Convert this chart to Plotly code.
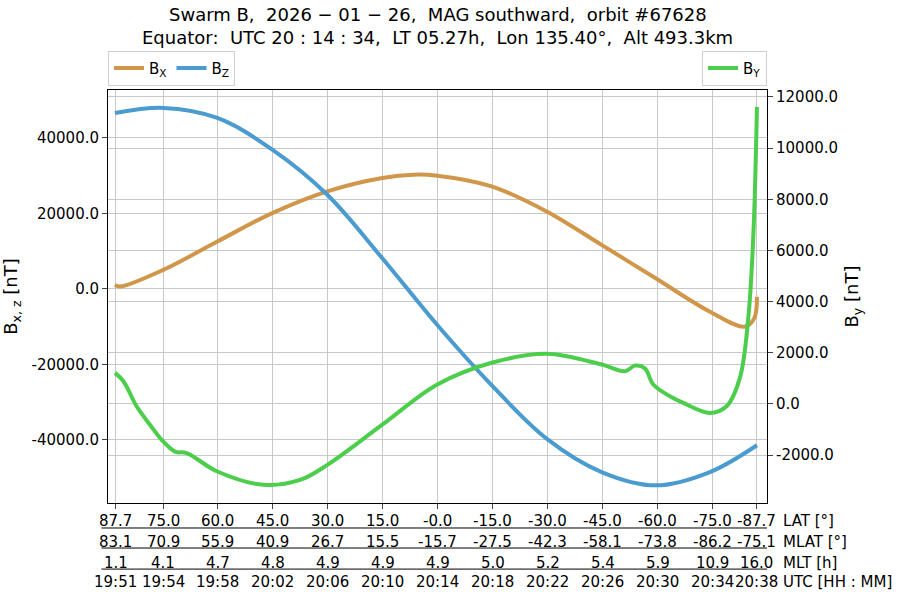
import plotly.graph_objects as go

# time in minutes since 19:50 UTC
bx_t = [0.51, 0.87, 4.02, 7.95, 11.95, 15.95, 19.95, 22.2, 23.95, 27.9, 31.9, 35.9, 39.83, 43.78, 46.3, 47.0, 47.2]
bx_v = [1060, 620, 5040, 12570, 20090, 25840, 29380, 30270, 30000, 27170, 20530, 11680, 2830, -6020, -10000, -7790, -2040]
bz_t = [0.51, 4.02, 7.95, 11.95, 15.95, 19.95, 23.95, 27.9, 31.9, 35.9, 39.83, 43.78, 47.2]
bz_v = [46600, 47960, 45300, 36900, 24950, 8140, -9560, -25490, -39640, -48500, -52030, -48500, -41400]
by_t = [0.51, 1.12, 2.08, 3.05, 3.9, 4.87, 5.72, 7.95, 11.3, 13.96, 15.95, 19.95, 23.95, 27.9, 31.9, 35.9,
        37.6, 38.33, 39.05, 39.66, 40.87, 41.84, 43.78, 44.99, 45.96, 46.57, 46.94, 47.2]
by_v = [1216, 890, -90, -810, -1400, -1860, -1920, -2640, -3160, -2970, -2380, -810, 760, 1610, 1960, 1540,
        1280, 1500, 1390, 760, 300, 40, -350, -90, 1020, 3370, 6640, 11610]

tick_t = [0.58, 4.02, 8, 12, 16, 20, 24, 28, 32, 36, 40, 44, 47.2]
lat = ["87.7", "75.0", "60.0", "45.0", "30.0", "15.0", "-0.0", "-15.0", "-30.0", "-45.0", "-60.0", "-75.0", "-87.7"]
mlat = ["83.1", "70.9", "55.9", "40.9", "26.7", "15.5", "-15.7", "-27.5", "-42.3", "-58.1", "-73.8", "-86.2", "-75.1"]
mlt = ["1.1", "4.1", "4.7", "4.8", "4.9", "4.9", "4.9", "5.0", "5.2", "5.4", "5.9", "10.9", "16.0"]
utc = ["19:51", "19:54", "19:58", "20:02", "20:06", "20:10", "20:14", "20:18", "20:22", "20:26", "20:30", "20:34", "20:38"]
row_names = ["LAT [°]", "MLAT [°]", "MLT [h]", "UTC [HH : MM]"]
rows = [lat, mlat, mlt, utc]
y1_ticks = [-40000, -20000, 0, 20000, 40000]
y1_text = ["-40000.0", "-20000.0", "0.0", "20000.0", "40000.0"]
y2_ticks = [-2000, 0, 2000, 4000, 6000, 8000, 10000, 12000]
y2_text = ["-2000.0", "0.0", "2000.0", "4000.0", "6000.0", "8000.0", "10000.0", "12000.0"]
title1 = "Swarm B,  2026 − 01 − 26,  MAG southward,  orbit #67628"
title2 = "Equator:  UTC 20 : 14 : 34,  LT 05.27h,  Lon 135.40°,  Alt 493.3km"

font = dict(family="DejaVu Sans", size=15, color="black")

fig = go.Figure()
fig.add_trace(go.Scatter(x=bx_t, y=bx_v, mode="lines", line=dict(color="#d0964a", width=4, shape="spline"),
                         name="B<sub>X</sub>", legend="legend"))
fig.add_trace(go.Scatter(x=bz_t, y=bz_v, mode="lines", line=dict(color="#4a9bd0", width=4, shape="spline"),
                         name="B<sub>Z</sub>", legend="legend"))
fig.add_trace(go.Scatter(x=by_t, y=by_v, mode="lines", line=dict(color="#4cce4c", width=4, shape="spline"),
                         name="B<sub>Y</sub>", yaxis="y2", legend="legend2"))

fig.update_layout(
    width=900, height=600, paper_bgcolor="white", plot_bgcolor="white", font=font,
    margin=dict(l=108, r=133, t=90, b=97, autoexpand=False),
    xaxis=dict(range=[0, 47.93], tickvals=tick_t, showticklabels=False, showgrid=True, gridcolor="#c8c8c8",
               showline=True, linecolor="black", mirror=True, ticks="outside", ticklen=5, zeroline=False,
               automargin=False),
    yaxis=dict(range=[-56700, 52700], tickvals=y1_ticks, ticktext=y1_text,
               showgrid=True, gridcolor="#c8c8c8", showline=True, linecolor="black", ticks="outside",
               zeroline=False, automargin=False, title=dict(text="B<sub>x, z</sub> [nT]", standoff=10)),
    yaxis2=dict(range=[-3870, 12270], overlaying="y", side="right", tickvals=y2_ticks, ticktext=y2_text,
                showgrid=True, gridcolor="#c8c8c8", showline=True, linecolor="black",
                ticks="outside", zeroline=False, automargin=False, title=dict(text="B<sub>y</sub> [nT]", standoff=8)),
    legend=dict(orientation="h", x=0.0, y=1.01, xanchor="left", yanchor="bottom", bordercolor="#d0d0d0",
                borderwidth=1, font=dict(size=15)),
    legend2=dict(orientation="h", x=1.0, y=1.01, xanchor="right", yanchor="bottom", bordercolor="#d0d0d0",
                 borderwidth=1, font=dict(size=15)),
)
fig.add_annotation(text=title1, xref="paper", yref="paper", x=0.5, y=1.184, yanchor="middle",
                   showarrow=False, font=dict(family="DejaVu Sans", size=18))
fig.add_annotation(text=title2, xref="paper", yref="paper", x=0.5, y=1.128, yanchor="middle",
                   showarrow=False, font=dict(family="DejaVu Sans", size=18))
row_y = [-0.0436, -0.0944, -0.145, -0.192]
for i, name in enumerate(row_names):
    yy = row_y[i]
    fig.add_annotation(text=name, xref="paper", yref="paper", x=1.022, xanchor="left",
                       y=yy, yanchor="middle", showarrow=False, font=font)
    for t, lab in zip(tick_t, rows[i]):
        fig.add_annotation(text=lab, xref="x", yref="paper", x=t, xanchor="center",
                           y=yy, yanchor="middle", showarrow=False, font=font)
for yy in [-0.0605, -0.109, -0.160]:
    fig.add_shape(type="line", xref="paper", yref="paper", x0=-0.01, x1=1.0,
                  y0=yy, y1=yy, line=dict(color="black", width=1))
fig.write_html("out.html", config={"displayModeBar": False},
               post_script="document.body.style.margin='0';")
